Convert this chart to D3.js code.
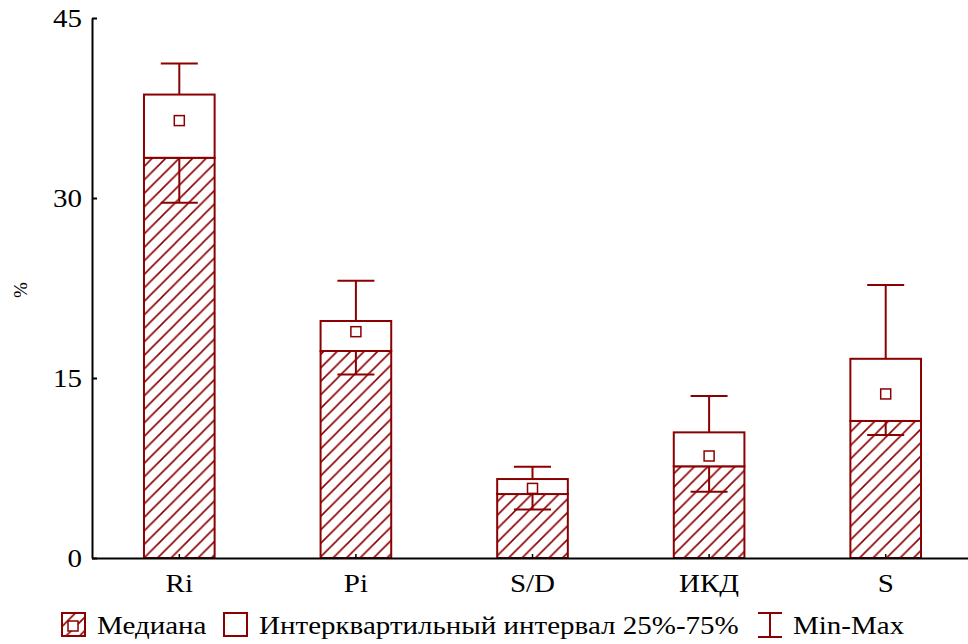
<!DOCTYPE html>
<html>
<head>
<meta charset="utf-8">
<script src="https://cdn.jsdelivr.net/npm/d3@7/dist/d3.min.js"></script>
</head>
<body style="margin:0">
<svg id="boxplot" width="968" height="644"></svg>
<script>
// Box statistics per group (%)
const categories = ["Ri", "Pi", "S/D", "ИКД", "S"];
const q1Values     = [33.35, 17.25, 5.33, 7.64, 11.42];
const q3Values     = [38.62, 19.75, 6.58, 10.47, 16.6];
const medianValues = [36.45, 18.86, 5.8, 8.5, 13.67];
const minValues    = [29.6, 15.3, 4.05, 5.53, 10.25];
const maxValues    = [41.2, 23.1, 7.6, 13.5, 22.75];
const yTicks = [0, 15, 30, 45];
const legendLabels = ["Медиана", "Интерквартильный интервал 25%-75%", "Min-Max"];

const rows = categories.map((c, i) => ({
  cat: c, q1: q1Values[i], q3: q3Values[i], med: medianValues[i],
  min: minValues[i], max: maxValues[i]
}));

const color = "#8b0000";
const fontStack = '"Liberation Serif", "Times New Roman", Tinos, serif';
const svg = d3.select("#boxplot");

// Serif face for every label
function serif(sel, size) {
  sel.each(function () {
    this.style.setProperty("font-family", fontStack, "important");
    this.style.setProperty("font-size", size + "px", "important");
  }).attr("fill", "#000");
  return sel;
}

const x = d3.scaleBand().domain(categories).range([91, 974])
  .paddingInner(0.6).paddingOuter(0.3);
const y = d3.scaleLinear().domain([0, 45]).range([558, 18]);

// Diagonal hatch
const defs = svg.append("defs");
const hs = 13.5;
const pat = defs.append("pattern").attr("id", "hatch")
  .attr("patternUnits", "userSpaceOnUse").attr("width", hs).attr("height", hs);
pat.append("path")
  .attr("d", `M-2,2 L2,-2 M0,${hs} L${hs},0 M${hs - 2},${hs + 2} L${hs + 2},${hs - 2}`)
  .attr("stroke", color).attr("stroke-width", 1.6);

const g = svg.append("g");
const bw = x.bandwidth();
const cap = 37;

rows.forEach(d => {
  const x0 = x(d.cat), cx = x0 + bw / 2;
  // hatched part from 0 up to the 25% quartile
  g.append("rect").attr("x", x0).attr("y", y(d.q1))
    .attr("width", bw).attr("height", y(0) - y(d.q1))
    .attr("fill", "url(#hatch)").attr("stroke", color).attr("stroke-width", 2);
  // interquartile box
  g.append("rect").attr("x", x0).attr("y", y(d.q3))
    .attr("width", bw).attr("height", y(d.q1) - y(d.q3))
    .attr("fill", "#fff").attr("stroke", color).attr("stroke-width", 2);
  // whiskers
  g.append("line").attr("x1", cx).attr("x2", cx).attr("y1", y(d.q3)).attr("y2", y(d.max))
    .attr("stroke", color).attr("stroke-width", 2);
  g.append("line").attr("x1", cx).attr("x2", cx).attr("y1", y(d.q1)).attr("y2", y(d.min))
    .attr("stroke", color).attr("stroke-width", 2);
  [d.max, d.min].forEach(v => {
    g.append("line").attr("x1", cx - cap / 2).attr("x2", cx + cap / 2)
      .attr("y1", y(v)).attr("y2", y(v))
      .attr("stroke", color).attr("stroke-width", 2);
  });
  // median marker
  g.append("rect").attr("x", cx - 5).attr("y", y(d.med) - 5)
    .attr("width", 10).attr("height", 10)
    .attr("fill", "#fff").attr("stroke", color).attr("stroke-width", 1.5);
});

// Legend (drawn first so its width sets the horizontal text stretch)
const ly = 613, ls = 23, fs = 26;
const leg = svg.append("g");
const legText = (xp, t) => serif(leg.append("text").attr("x", 0).attr("y", 0).text(t), fs)
  .attr("data-x", xp);

leg.append("rect").attr("x", 62).attr("y", ly).attr("width", ls).attr("height", ls)
  .attr("fill", "url(#hatch)").attr("stroke", color).attr("stroke-width", 2);
leg.append("rect").attr("x", 68).attr("y", ly + 8).attr("width", 10).attr("height", 10)
  .attr("fill", "#fff").attr("stroke", color).attr("stroke-width", 1.5);
const t0 = legText(97, legendLabels[0]);

leg.append("rect").attr("x", 224).attr("y", ly).attr("width", ls).attr("height", ls)
  .attr("fill", "#fff").attr("stroke", color).attr("stroke-width", 2);
const t1 = legText(259, legendLabels[1]);

const mx = 770;
leg.append("line").attr("x1", mx).attr("x2", mx).attr("y1", ly).attr("y2", ly + 24)
  .attr("stroke", color).attr("stroke-width", 2);
[ly, ly + 24].forEach(v => leg.append("line").attr("x1", mx - 12).attr("x2", mx + 12)
  .attr("y1", v).attr("y2", v).attr("stroke", color).attr("stroke-width", 2));
const t2 = legText(793, legendLabels[2]);

// wide serif lettering: stretch so the interval label spans 259..740
let sx = 480 / t1.node().getComputedTextLength();
if (!isFinite(sx) || sx < 0.9 || sx > 1.4) sx = 1.12;
[t0, t1, t2].forEach(t => t.attr("transform", `translate(${t.attr("data-x")},634) scale(${sx},1)`));

// Axes
const yAxis = d3.axisLeft(y).tickValues(yTicks).tickSizeInner(-5).tickSizeOuter(0).tickPadding(10);
const ya = svg.append("g").attr("transform", "translate(92,0)").call(yAxis);
ya.attr("font-family", null).attr("font-size", null);
ya.select(".domain").attr("stroke", "#000").attr("stroke-width", 2);
ya.selectAll(".tick line").attr("stroke", "#000").attr("stroke-width", 2);
serif(ya.selectAll(".tick text"), fs)
  .attr("x", -10 / sx).attr("transform", `scale(${sx},1)`);

const xAxis = d3.axisBottom(x).tickSizeInner(-4).tickSizeOuter(0).tickPadding(16);
const xa = svg.append("g").attr("transform", "translate(0,558)").call(xAxis);
xa.attr("font-family", null).attr("font-size", null);
xa.select(".domain").attr("d", "M92,0.5H968").attr("stroke", "#000").attr("stroke-width", 2);
xa.selectAll(".tick line").attr("stroke", "#000").attr("stroke-width", 1.5);
serif(xa.selectAll(".tick text"), fs).attr("transform", `scale(${sx},1)`);

// Y axis title
serif(svg.append("text").attr("transform", "translate(27,290) rotate(-90)")
  .attr("text-anchor", "middle").text("%"), 19);
</script>
</body>
</html>
